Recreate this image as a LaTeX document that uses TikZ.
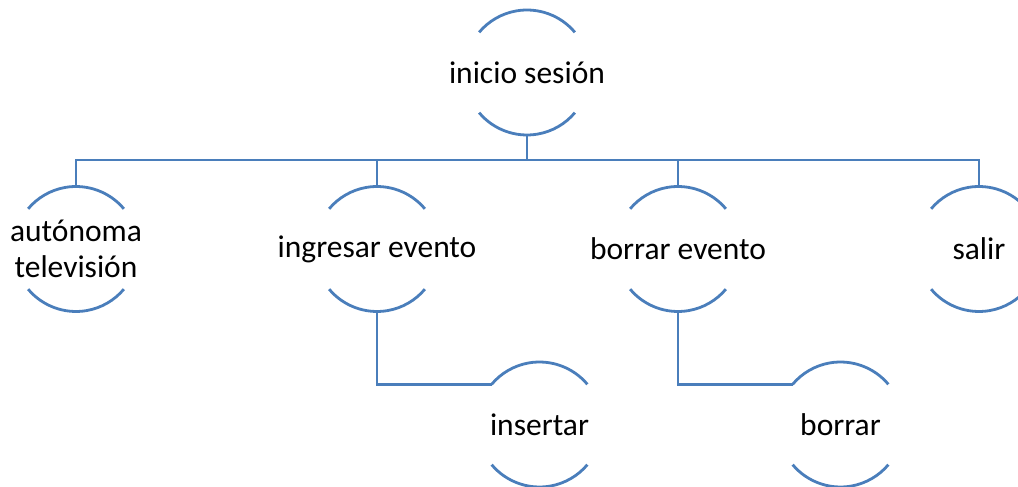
\documentclass[tikz,border=0pt]{standalone}
\usepackage{fontspec}
\setmainfont{Carlito}
\definecolor{acc}{HTML}{4A7EBB}
\begin{document}
\begin{tikzpicture}[x=1pt,y=1pt,
  unit/.style={rectangle, minimum width=125pt, minimum height=125pt, inner sep=0pt, outer sep=0pt,
    align=center, font=\fontsize{31.5}{35.5}\selectfont, text=black},
  arcline/.style={draw=acc, line width=2.8pt},
  conn/.style={draw=acc, line width=2.8pt}]
\useasboundingbox (0,0) rectangle (1018,487);
\node[unit] (root) at (527,414.5) {inicio sesión};
\node[unit] (a) at (76,238) {autónoma\\televisión};
\node[unit] (b) at (377,238) {ingresar evento};
\node[unit] (c) at (678,238) {borrar evento};
\node[unit] (d) at (979,238) {salir};
\node[unit] (e) at (539.5,62.5) {insertar};
\node[unit] (f) at (840.5,62.5) {borrar};
\coordinate (bus) at (527,327);
% connectors
\draw[conn] (root.south) -- (root.south |- bus);
\draw[conn] (a.north) -- (a.north |- bus) -- (d.north |- bus) -- (d.north);
\draw[conn] (b.north) -- (b.north |- bus);
\draw[conn] (c.north) -- (c.north |- bus);
\draw[conn] (b.south) |- ([shift={(140:62.5pt)}]e.center);
\draw[conn] (c.south) |- ([shift={(140:62.5pt)}]f.center);
% arcs
\foreach \n in {root,a,b,c,d,e,f}{
  \draw[arcline] ([shift={(40:62.5pt)}]\n.center) arc[start angle=40, end angle=140, radius=62.5pt];
  \draw[arcline] ([shift={(220:62.5pt)}]\n.center) arc[start angle=220, end angle=320, radius=62.5pt];
}
\end{tikzpicture}
\end{document}
